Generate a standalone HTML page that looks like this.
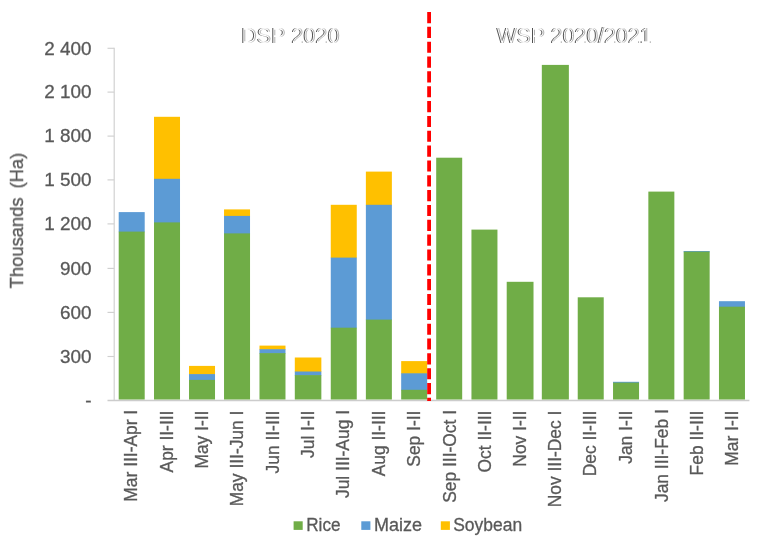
<!DOCTYPE html>
<html lang="en"><head><meta charset="utf-8"><title>Planting area chart</title>
<style>html,body{margin:0;padding:0;background:#fff}svg{display:block}text{font-family:"Liberation Sans",Arial,sans-serif}.t text{stroke:#595959;stroke-width:0.3px}</style></head>
<body>
<svg width="758" height="540" viewBox="0 0 758 540">
<rect width="758" height="540" fill="#fff"/>
<defs><filter id="soft" x="0" y="0" width="758" height="540" filterUnits="userSpaceOnUse"><feGaussianBlur stdDeviation="0.4"/></filter></defs>
<g class="t" filter="url(#soft)">
<g stroke="#d0d0d0" stroke-width="1.15" fill="none">
<line x1="114.2" y1="47.8" x2="114.2" y2="401.0"/>
<line x1="107.5" y1="400.5" x2="749.4" y2="400.5" stroke-width="1.4" stroke="#cccccc"/>
<line x1="107.5" y1="356.50" x2="114.2" y2="356.50"/>
<line x1="107.5" y1="312.40" x2="114.2" y2="312.40"/>
<line x1="107.5" y1="268.40" x2="114.2" y2="268.40"/>
<line x1="107.5" y1="223.90" x2="114.2" y2="223.90"/>
<line x1="107.5" y1="179.90" x2="114.2" y2="179.90"/>
<line x1="107.5" y1="136.10" x2="114.2" y2="136.10"/>
<line x1="107.5" y1="92.10" x2="114.2" y2="92.10"/>
<line x1="107.5" y1="48.30" x2="114.2" y2="48.30"/>
</g>
<g shape-rendering="auto">
<rect x="118.70" y="212.10" width="26.00" height="20.10" fill="#5B9BD5"/>
<rect x="118.70" y="231.60" width="26.00" height="167.90" fill="#70AD47"/>
<rect x="154.01" y="116.80" width="26.00" height="62.60" fill="#FFC000"/>
<rect x="154.01" y="178.80" width="26.00" height="44.20" fill="#5B9BD5"/>
<rect x="154.01" y="222.40" width="26.00" height="177.10" fill="#70AD47"/>
<rect x="189.02" y="365.90" width="26.00" height="8.80" fill="#FFC000"/>
<rect x="189.02" y="374.10" width="26.00" height="6.40" fill="#5B9BD5"/>
<rect x="189.02" y="379.90" width="26.00" height="19.60" fill="#70AD47"/>
<rect x="224.03" y="209.40" width="26.00" height="7.10" fill="#FFC000"/>
<rect x="224.03" y="215.90" width="26.00" height="18.10" fill="#5B9BD5"/>
<rect x="224.03" y="233.40" width="26.00" height="166.10" fill="#70AD47"/>
<rect x="259.49" y="345.60" width="26.00" height="4.20" fill="#FFC000"/>
<rect x="259.49" y="349.20" width="26.00" height="4.50" fill="#5B9BD5"/>
<rect x="259.49" y="353.10" width="26.00" height="46.40" fill="#70AD47"/>
<rect x="294.80" y="357.50" width="26.55" height="14.60" fill="#FFC000"/>
<rect x="294.80" y="371.50" width="26.55" height="4.20" fill="#5B9BD5"/>
<rect x="294.80" y="375.10" width="26.55" height="24.40" fill="#70AD47"/>
<rect x="330.76" y="204.80" width="26.00" height="53.40" fill="#FFC000"/>
<rect x="330.76" y="257.60" width="26.00" height="70.70" fill="#5B9BD5"/>
<rect x="330.76" y="327.70" width="26.00" height="71.80" fill="#70AD47"/>
<rect x="365.87" y="171.60" width="26.00" height="33.80" fill="#FFC000"/>
<rect x="365.87" y="204.80" width="26.00" height="115.40" fill="#5B9BD5"/>
<rect x="365.87" y="319.60" width="26.00" height="79.90" fill="#70AD47"/>
<rect x="401.18" y="361.10" width="26.00" height="12.80" fill="#FFC000"/>
<rect x="401.18" y="373.30" width="26.00" height="17.10" fill="#5B9BD5"/>
<rect x="401.18" y="389.80" width="26.00" height="9.70" fill="#70AD47"/>
<rect x="436.19" y="157.70" width="26.00" height="241.80" fill="#70AD47"/>
<rect x="471.45" y="229.60" width="26.00" height="169.90" fill="#70AD47"/>
<rect x="506.71" y="281.80" width="26.80" height="117.70" fill="#70AD47"/>
<rect x="541.82" y="64.90" width="27.05" height="334.60" fill="#70AD47"/>
<rect x="577.73" y="297.30" width="26.00" height="102.20" fill="#70AD47"/>
<rect x="613.04" y="381.80" width="26.00" height="1.40" fill="#5B9BD5"/>
<rect x="613.04" y="382.60" width="26.00" height="16.90" fill="#70AD47"/>
<rect x="648.35" y="191.60" width="26.00" height="207.90" fill="#70AD47"/>
<rect x="683.66" y="251.00" width="26.00" height="1.20" fill="#5B9BD5"/>
<rect x="683.66" y="251.60" width="26.00" height="147.90" fill="#70AD47"/>
<rect x="718.97" y="301.20" width="26.00" height="6.10" fill="#5B9BD5"/>
<rect x="718.97" y="306.70" width="26.00" height="92.80" fill="#70AD47"/>
</g>
<line x1="429.1" y1="12" x2="429.1" y2="401.1" stroke="#FF0000" stroke-width="3.8" stroke-dasharray="11.14 3.7"/>
<g fill="#595959" font-size="18.9" text-anchor="end">
<text x="91.6" y="406.85">-</text>
<text x="91.6" y="362.85">300</text>
<text x="91.6" y="318.75">600</text>
<text x="91.6" y="274.75">900</text>
<text x="91.6" y="230.25">1 200</text>
<text x="91.6" y="186.25">1 500</text>
<text x="91.6" y="142.45">1 800</text>
<text x="91.6" y="98.45">2 100</text>
<text x="91.6" y="54.65">2 400</text>
</g>
<text transform="translate(23.0,288.4) rotate(-90)" fill="#595959" font-size="18.4" word-spacing="3.8">Thousands (Ha)</text>
<g fill="#595959" font-size="17.4" text-anchor="end">
<text transform="translate(137.40,409.80) rotate(-90) scale(1,1.04)">Mar III-Apr I</text>
<text transform="translate(172.71,410.60) rotate(-90) scale(1,1.04)">Apr II-III</text>
<text transform="translate(208.02,410.60) rotate(-90) scale(1,1.04)">May I-II</text>
<text transform="translate(243.33,410.60) rotate(-90) scale(1,1.04)">May III-Jun I</text>
<text transform="translate(278.64,410.60) rotate(-90) scale(1,1.04)">Jun II-III</text>
<text transform="translate(313.95,410.60) rotate(-90) scale(1,1.04)">Jul I-II</text>
<text transform="translate(349.26,410.00) rotate(-90) scale(1,1.04)">Jul III-Aug I</text>
<text transform="translate(384.57,410.60) rotate(-90) scale(1,1.04)">Aug II-III</text>
<text transform="translate(419.88,410.60) rotate(-90) scale(1,1.04)">Sep I-II</text>
<text transform="translate(455.99,410.00) rotate(-90) scale(1,1.04)">Sep III-Oct I</text>
<text transform="translate(490.50,410.60) rotate(-90) scale(1,1.04)">Oct II-III</text>
<text transform="translate(525.81,410.60) rotate(-90) scale(1,1.04)">Nov I-II</text>
<text transform="translate(561.12,410.60) rotate(-90) scale(1,1.04)">Nov III-Dec I</text>
<text transform="translate(596.43,410.60) rotate(-90) scale(1,1.04)">Dec II-III</text>
<text transform="translate(631.74,410.60) rotate(-90) scale(1,1.04)">Jan I-II</text>
<text transform="translate(667.95,409.20) rotate(-90) scale(1,1.04)">Jan III-Feb I</text>
<text transform="translate(703.26,410.60) rotate(-90) scale(1,1.04)">Feb II-III</text>
<text transform="translate(738.27,410.60) rotate(-90) scale(1,1.04)">Mar I-II</text>
</g>
<g font-size="18" fill="#595959">
<rect x="293.6" y="521.3" width="9.1" height="8.6" fill="#70AD47"/>
<text x="306.2" y="531.4" textLength="34.3" lengthAdjust="spacingAndGlyphs">Rice</text>
<rect x="361.3" y="521.3" width="9.1" height="8.6" fill="#5B9BD5"/>
<text x="374.0" y="531.4">Maize</text>
<rect x="440.8" y="521.3" width="9.1" height="8.6" fill="#FFC000"/>
<text x="453.2" y="531.4" textLength="68.9" lengthAdjust="spacingAndGlyphs">Soybean</text>
</g>
</g>
<defs><filter id="ve" x="-5%" y="-20%" width="110%" height="140%" color-interpolation-filters="sRGB"><feOffset in="SourceAlpha" dx="0.6" dy="0" result="s"/><feComposite in="SourceAlpha" in2="s" operator="arithmetic" k1="0" k2="1" k3="-1" k4="0" result="a"/><feComposite in="s" in2="SourceAlpha" operator="arithmetic" k1="0" k2="0.45" k3="-0.45" k4="0" result="b"/><feMerge result="m"><feMergeNode in="a"/><feMergeNode in="b"/></feMerge><feFlood flood-color="#333" flood-opacity="0.85" result="f"/><feComposite in="f" in2="m" operator="in"/></filter></defs>
<text x="240.4" y="42.6" font-size="21.33" fill="#000" filter="url(#ve)" textLength="98.6" lengthAdjust="spacingAndGlyphs">DSP 2020</text>
<text x="496.0" y="42.6" font-size="21.33" fill="#000" filter="url(#ve)" textLength="154.9" lengthAdjust="spacingAndGlyphs">WSP 2020/2021</text>
</svg>
</body></html>
